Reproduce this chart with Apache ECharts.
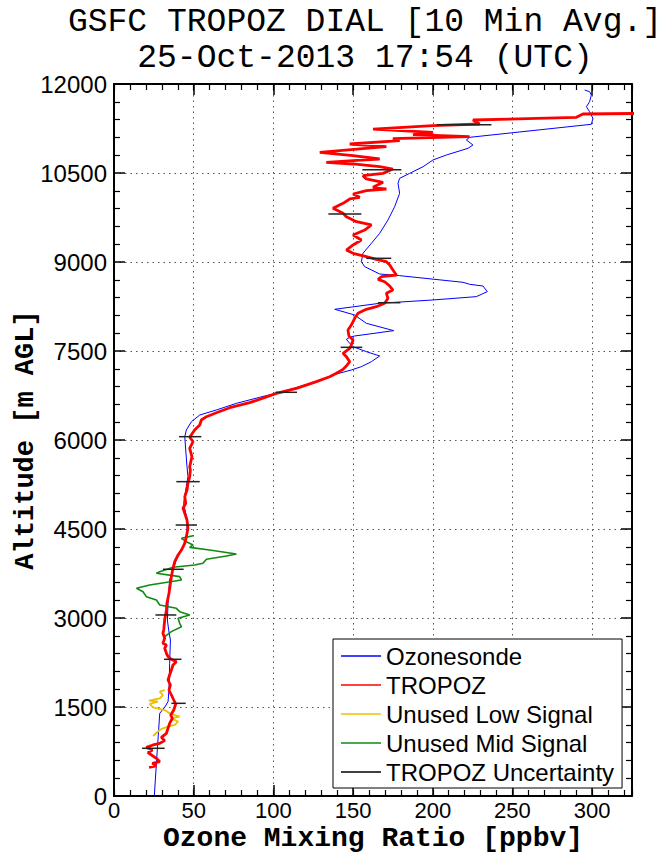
<!DOCTYPE html>
<html>
<head>
<meta charset="utf-8">
<script src="https://cdn.jsdelivr.net/npm/echarts@6/dist/echarts.min.js"></script>
<style>html,body{margin:0;padding:0;background:#fff}#c{width:665px;height:852px}</style>
</head>
<body>
<div id="c"></div>
<script>
// ---- data ----
const titleLines = ['GSFC TROPOZ DIAL [10 Min Avg.]', '25-Oct-2013 17:54 (UTC)'];
const xTicks = [0, 50, 100, 150, 200, 250, 300];
const yTicks = [0, 1500, 3000, 4500, 6000, 7500, 9000, 10500, 12000];
const seriesNames = ['Ozonesonde', 'TROPOZ', 'Unused Low Signal', 'Unused Mid Signal', 'TROPOZ Uncertainty'];

const sondeAlt = [0,551,1112,1394,1495,1590,1786,2236,2629,2798,2966,3248,3640,3809,3978,4146,4286,4427,4652,4765,4933,5157,5382,5550,5831,6056,6169,6309,6421,6506,6618,6720,6787,6899,7011,7112,7180,7236,7320,7416,7489,7573,7630,7697,7731,7753,7843,7967,8107,8203,8304,8360,8416,8500,8595,8624,8658,8770,8798,8921,9005,9146,9315,9484,9708,9933,10158,10326,10410,10494,10606,10719,10803,10916,10972,11056,11101,11321,11420,11533,11617,11702,11814,11870,11899];
const sondeO3 = [25.3,26.6,28.0,28.7,31.8,33.9,34.5,34.9,35.4,34.3,33.5,33.9,34.9,37.0,39.1,42.3,44.4,45.8,45.8,45.0,43.7,45.0,46.4,45.8,45.0,44.4,45.4,48.6,53.8,64.2,76.8,91.4,101.9,116.5,130.0,139.5,148.9,155.2,161.5,166.7,158.3,149.9,147.9,145.8,147.9,151.0,175.5,158.3,151.0,138.5,166.7,200.1,227.3,234.2,231.5,223.1,218.9,179.2,166.7,157.3,155.2,156.2,161.5,166.7,171.9,176.1,179.2,178.2,179.2,185.5,193.9,200.1,208.5,222.1,225.2,221.1,223.1,299.5,300.5,298.4,296.4,298.4,299.5,298.4,295.3];

const tropozAlt = [484,506,551,578,635,691,730,775,820,860,888,933,989,1057,1141,1225,1310,1365,1449,1551,1618,1702,1786,1871,1955,2039,2124,2208,2264,2304,2348,2405,2489,2545,2573,2658,2742,2798,2966,3135,3248,3416,3585,3697,3838,3949,4062,4146,4259,4371,4512,4652,4765,4849,4933,5045,5157,5270,5382,5494,5550,5719,5860,5972,6046,6169,6253,6337,6393,6460,6544,6629,6787,6871,6983,7067,7124,7191,7247,7320,7405,7461,7545,7601,7685,7753,7854,7938,8051,8135,8203,8247,8304,8388,8472,8528,8595,8668,8708,8752,8781,8865,8949,9005,9045,9090,9146,9202,9287,9371,9455,9539,9624,9680,9764,9820,9905,9989,10062,10090,10146,10202,10230,10258,10343,10399,10455,10494,10567,10606,10652,10680,10710,10736,10792,10846,10905,10944,10989,11045,11080,11112,11146,11185,11241,11297,11326,11393,11438,11494,11506];
const tropozO3 = [22.0,26.6,24.1,28.7,26.6,23.5,21.3,24.1,20.3,24.5,28.7,31.8,29.7,32.9,33.9,34.9,36.6,35.6,37.5,38.7,37.5,36.0,34.5,35.4,33.9,34.9,36.0,37.0,39.1,36.0,33.9,32.9,31.8,32.9,30.7,31.8,30.7,31.2,31.8,32.9,33.2,34.5,35.4,36.0,37.0,38.1,40.2,42.3,44.4,45.4,46.4,45.8,44.4,43.3,45.0,44.4,45.8,46.4,47.5,47.9,47.5,48.9,47.5,49.6,47.5,50.6,53.8,54.8,58.0,64.2,72.6,85.1,101.9,114.4,127.0,135.3,139.5,143.7,145.8,147.9,145.8,143.7,147.9,148.9,150.0,147.4,146.8,148.9,151.0,153.1,158.3,164.6,169.8,171.9,170.9,175.0,173.0,169.8,165.7,167.7,177.2,175.0,173.0,170.9,164.6,158.3,150.0,145.8,150.0,155.2,150.0,157.3,161.5,152.1,145.8,143.7,137.4,143.7,147.9,154.2,150.0,158.3,170.9,162.5,168.8,158.3,156.2,168.8,175.0,166.7,150.0,133.2,150.0,166.7,150.0,129.1,154.2,170.9,147.9,179.2,175.0,223.1,187.6,200.1,162.5,200.1,229.4,225.2,290.1,294.2,340];

const lowAlt = [1011,1112,1141,1168,1197,1253,1310,1337,1394,1449,1495,1551,1590,1606,1646,1702,1758,1786];
const lowO3 = [24.5,28.7,30.7,33.9,38.1,40.2,36.0,41.2,34.9,31.8,24.5,22.4,27.6,22.0,28.7,30.7,28.7,31.8];

const midAlt = [2686,2770,2854,2910,2994,3051,3107,3163,3219,3303,3360,3443,3500,3556,3641,3697,3753,3781,3855,3893,3922,3989,4045,4079,4146,4190,4230,4286,4343,4387];
const midO3 = [31.8,36.0,42.3,41.2,40.2,47.5,41.2,39.1,28.7,26.6,20.3,18.2,14.1,22.4,42.3,41.2,26.6,28.7,37.0,50.6,55.8,58.0,70.5,76.8,60.0,47.5,49.6,45.4,42.3,49.6];

const uncAlt = [804,1562,2304,3051,3821,4567,5298,6056,6804,7562,8314,9062,9809,10556,11315];
const uncLo = [17.6,36.0,31.4,26.0,30.7,38.7,39.1,40.8,101.4,142.2,165.7,158.3,134.5,155.8,202.6];
const uncHi = [31.8,45.0,42.3,39.1,43.7,52.1,53.8,54.8,114.8,155.8,179.7,174.0,155.2,180.3,236.8];

// ---- chart ----
const X_MAX = 325, Y_MAX = 12000;
const pairs = (xs, ys) => ys.map((y, i) => [xs[i], y]);
const sansFont = 'Liberation Sans';
const monoFont = 'Liberation Mono';

const chart = echarts.init(document.getElementById('c'), null, {renderer: 'svg'});

const dotted = {show: true, lineStyle: {color: '#555', width: 1, type: [1.5, 4]}};
const axLine = {show: true, onZero: false, lineStyle: {color: '#000', width: 2}};
const noLine = {show: false, onZero: false};

function xAx(pos, major, labels) {
  return {
    type: 'value', position: pos, min: 0, max: X_MAX,
    interval: major ? 50 : 10,
    axisLine: major ? axLine : noLine,
    axisTick: {show: true, inside: true, length: major ? 11 : 6, lineStyle: {color: '#000', width: major ? 1.5 : 1.2}},
    axisLabel: labels ? {
      show: true, color: '#000', fontFamily: sansFont, fontSize: 22, lineHeight: 22, margin: 3, showMaxLabel: false,
      formatter: v => (xTicks.indexOf(v) >= 0 ? String(v) : '')
    } : {show: false},
    splitLine: (labels ? dotted : {show: false}),
    name: labels ? 'Ozone Mixing Ratio [ppbv]' : '',
    nameLocation: 'middle', nameGap: 31, nameMoveOverlap: false,
    nameTextStyle: {fontFamily: monoFont, fontWeight: 'bold', fontSize: 28, color: '#000', lineHeight: 22}
  };
}
function yAx(pos, labels) {
  return {
    type: 'value', position: pos, min: 0, max: Y_MAX, interval: 1500,
    axisLine: axLine,
    axisTick: {show: true, inside: true, length: 11, lineStyle: {color: '#000', width: 1.5}},
    minorTick: {show: true, splitNumber: 5, length: 6, lineStyle: {color: '#000', width: 1.2}},
    axisLabel: labels ? {
      show: true, color: '#000', fontFamily: sansFont, fontSize: 24, margin: 7,
      formatter: v => (yTicks.indexOf(v) >= 0 ? String(v) : '')
    } : {show: false},
    splitLine: labels ? dotted : {show: false},
    name: labels ? 'Altitude [m AGL]' : '',
    nameLocation: 'middle', nameGap: 75, nameRotate: 90, nameMoveOverlap: false,
    nameTextStyle: {fontFamily: monoFont, fontWeight: 'bold', fontSize: 27, color: '#000', lineHeight: 27}
  };
}

const baseLine = {type: 'line', xAxisIndex: 0, yAxisIndex: 0, symbol: 'none', showSymbol: false, animation: false, clip: true};

const series = [
  Object.assign({}, baseLine, {name: seriesNames[0], data: pairs(sondeO3, sondeAlt), z: 2,
    lineStyle: {color: '#0000ff', width: 1}, itemStyle: {color: '#0000ff'}}),
  Object.assign({}, baseLine, {name: seriesNames[2], data: pairs(lowO3, lowAlt), z: 3,
    lineStyle: {color: '#eec000', width: 1.8}, itemStyle: {color: '#eec000'}}),
  Object.assign({}, baseLine, {name: seriesNames[3], data: pairs(midO3, midAlt), z: 3,
    lineStyle: {color: '#118a11', width: 1.6}, itemStyle: {color: '#118a11'}}),
  Object.assign({}, baseLine, {name: seriesNames[1], data: pairs(tropozO3, tropozAlt), z: 4,
    lineStyle: {color: '#ff0000', width: 2.8}, itemStyle: {color: '#ff0000'}})
];
uncAlt.forEach((a, i) => {
  series.push(Object.assign({}, baseLine, {
    name: seriesNames[4], z: 5,
    data: [[uncLo[i], a], [uncHi[i], a]],
    lineStyle: {color: '#222', width: 1.5}, itemStyle: {color: '#000'}
  }));
});

chart.setOption({
  backgroundColor: '#fff',
  animation: false,
  grid: {left: 114, right: 33, top: 84, bottom: 56, containLabel: false, outerBoundsMode: 'none'},
  graphic: [
    {type: 'text', x: 365, y: 6, z: 10,
     style: {text: titleLines[0], textAlign: 'center', textVerticalAlign: 'top',
       font: '33px "Liberation Mono"', lineHeight: 33, fill: '#000'}},
    {type: 'text', x: 365, y: 42, z: 10,
     style: {text: titleLines[1], textAlign: 'center', textVerticalAlign: 'top',
       font: '33px "Liberation Mono"', lineHeight: 33, fill: '#000'}}
  ],
  legend: {
    orient: 'vertical', left: 333, top: 639,
    padding: [5, 8, 4, 8], itemGap: 5, itemWidth: 40, itemHeight: 1.4,
    icon: 'rect',
    backgroundColor: '#fff', borderColor: '#000', borderWidth: 1, borderRadius: 0,
    selectedMode: false,
    textStyle: {fontFamily: sansFont, fontSize: 24, color: '#000', lineHeight: 24},
    data: seriesNames
  },
  xAxis: [xAx('bottom', true, true), xAx('bottom', false, false), xAx('top', true, false), xAx('top', false, false)],
  yAxis: [yAx('left', true), yAx('right', false)],
  series: series
});
</script>
</body>
</html>
